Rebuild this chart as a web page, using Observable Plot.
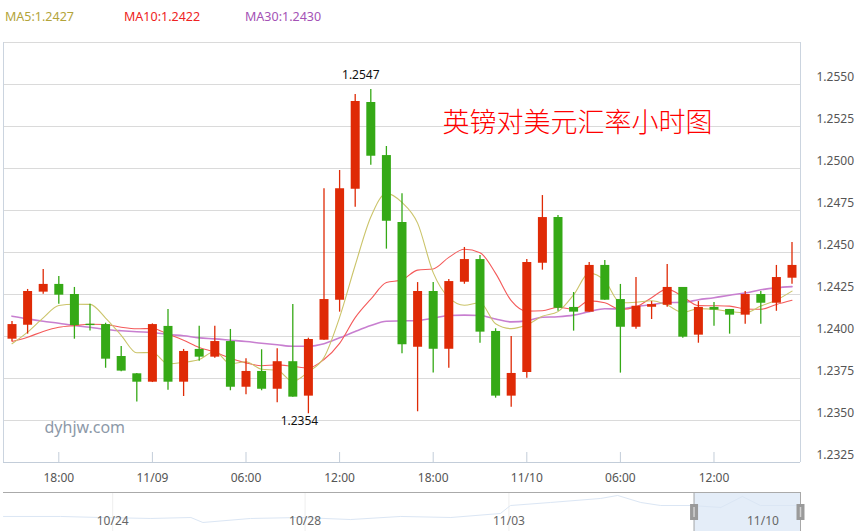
<!DOCTYPE html>
<html><head><meta charset="utf-8">
<script src="https://cdn.jsdelivr.net/npm/d3@7"></script>
<script src="https://cdn.jsdelivr.net/npm/@observablehq/plot@0.6"></script>
<style>
body{margin:0;background:#fff;font-family:"Noto Sans",sans-serif;}
#wrap{position:relative;width:856px;height:531px;overflow:hidden;}
#legend{position:absolute;top:0;left:0;width:856px;height:30px;font-size:12.5px;}
#legend span{position:absolute;top:8px;line-height:18px;white-space:nowrap;}
#main{position:absolute;top:30px;left:0;}
#nav{position:absolute;top:490px;left:0;}
</style></head>
<body><div id="wrap"><div id="legend"></div><div id="main"></div><div id="nav"></div></div>
<script>
// ---- data (hourly candles, 2016-11-08 15:00 .. 2016-11-10 18:00) ----
const startHour = "2016-11-08T15:00:00Z";
const open = [1.23984,1.24067,1.24264,1.24310,1.24250,1.24073,1.24071,1.23881,1.23778,1.23728,
  1.24060,1.23728,1.23923,1.23877,1.23970,1.23698,1.23792,1.23686,1.23850,1.23645,
  1.23978,1.24216,1.24877,1.25393,1.25077,1.24679,1.23936,1.24268,1.23924,1.24323,
  1.24458,1.24030,1.23645,1.23786,1.24436,1.24708,1.24173,1.24145,1.24423,1.24220,
  1.24055,1.24174,1.24186,1.24292,1.24008,1.24173,1.24161,1.24127,1.24250,1.24198,1.24347];
const high = [1.24089,1.24280,1.24399,1.24357,1.24292,1.24192,1.24079,1.23940,1.23780,1.24075,
  1.24161,1.23923,1.24061,1.24061,1.24042,1.23867,1.23921,1.23927,1.24190,1.23990,
  1.24880,1.24988,1.25440,1.25470,1.25131,1.24850,1.24321,1.24321,1.24339,1.24530,
  1.24482,1.24046,1.24000,1.24458,1.24839,1.24720,1.24262,1.24440,1.24452,1.24310,
  1.24351,1.24208,1.24429,1.24292,1.24208,1.24202,1.24161,1.24268,1.24268,1.24423,1.24560];
const low = [1.23970,1.24014,1.24252,1.24192,1.23984,1.24032,1.23811,1.23790,1.23610,1.23726,
  1.23680,1.23643,1.23853,1.23871,1.23677,1.23653,1.23677,1.23605,1.23639,1.23540,
  1.23978,1.24145,1.24770,1.25020,1.24520,1.23897,1.23552,1.23782,1.23811,1.24311,
  1.23960,1.23633,1.23579,1.23752,1.24395,1.24150,1.24032,1.24145,1.24216,1.23782,
  1.24043,1.24101,1.24174,1.23990,1.23960,1.24061,1.24014,1.24073,1.24073,1.24150,1.24311];
const close = [1.24071,1.24268,1.24310,1.24246,1.24065,1.24065,1.23865,1.23794,1.23728,1.24071,
  1.23728,1.23911,1.23877,1.23970,1.23698,1.23792,1.23686,1.23850,1.23639,1.23982,
  1.24220,1.24880,1.25399,1.25073,1.24686,1.23951,1.24268,1.23924,1.24327,1.24458,
  1.24026,1.23645,1.23780,1.24440,1.24708,1.24168,1.24145,1.24423,1.24216,1.24055,
  1.24180,1.24190,1.24292,1.23996,1.24173,1.24157,1.24127,1.24250,1.24198,1.24351,1.24423];
const ma5 = [1.23957,1.24026,1.24111,1.24185,1.24192,1.24191,1.24110,1.24007,1.23903,1.23905,
  1.23837,1.23846,1.23863,1.23911,1.23837,1.23850,1.23805,1.23799,1.23733,1.23790,
  1.23875,1.24114,1.24424,1.24711,1.24852,1.24798,1.24675,1.24380,1.24231,1.24186,
  1.24201,1.24076,1.24047,1.24070,1.24120,1.24148,1.24248,1.24377,1.24332,1.24201,
  1.24204,1.24213,1.24187,1.24143,1.24166,1.24162,1.24149,1.24141,1.24181,1.24217,1.24270];
const ma10 = [1.23970,1.23996,1.24030,1.24055,1.24065,1.24073,1.24071,1.24055,1.24046,1.24048,
  1.24014,1.23978,1.23935,1.23907,1.23871,1.23843,1.23826,1.23831,1.23822,1.23813,
  1.23863,1.23959,1.24112,1.24222,1.24321,1.24337,1.24395,1.24402,1.24471,1.24519,
  1.24499,1.24376,1.24214,1.24151,1.24153,1.24174,1.24162,1.24212,1.24201,1.24161,
  1.24176,1.24231,1.24282,1.24237,1.24184,1.24183,1.24181,1.24164,1.24162,1.24191,1.24216];
const ma30 = [1.24121,1.24105,1.24091,1.24079,1.24065,1.24055,1.24042,1.24034,1.24028,1.24024,
  1.24012,1.24004,1.23992,1.23986,1.23978,1.23970,1.23960,1.23951,1.23942,1.23942,
  1.23957,1.23992,1.24030,1.24065,1.24091,1.24093,1.24095,1.24109,1.24125,1.24127,
  1.24125,1.24104,1.24087,1.24093,1.24115,1.24118,1.24127,1.24148,1.24165,1.24164,
  1.24179,1.24189,1.24202,1.24203,1.24219,1.24231,1.24246,1.24259,1.24278,1.24290,1.24297];

const xTickTimes = ["2016-11-08T18:00Z","2016-11-09T00:00Z","2016-11-09T06:00Z","2016-11-09T12:00Z",
  "2016-11-09T18:00Z","2016-11-10T00:00Z","2016-11-10T06:00Z","2016-11-10T12:00Z"];
const xTickLabels = ["18:00","11/09","06:00","12:00","18:00","11/10","06:00","12:00"];
const yLabelTicks = [1.2325,1.2350,1.2375,1.2400,1.2425,1.2450,1.2475,1.2500,1.2525,1.2550];
const yGridTicks = [1.2350,1.2375,1.2400,1.2425,1.2450,1.2475,1.2500,1.2525,1.2550,1.2575];
const yDomain = [1.2325, 1.2575];

// navigator (overview) series, x in trading days from 10/24
const navT = [-2.16,-1.02,-0.22,0.78,1.58,1.82,2.77,3.77,4.77,5.77,6.77,7.76,7.96,8.76,9.76,10.10,10.56,10.96,11.56,12.16,12.59,12.95,13.75];
const navV = [1.2237,1.2237,1.2222,1.2208,1.2222,1.2150,1.2208,1.2222,1.2193,1.2237,1.2222,1.2280,1.2395,1.2439,1.2497,1.2540,1.2439,1.2395,1.2395,1.2367,1.2525,1.2395,1.2395];
const navLabelT = [0.02, 3.86, 7.93, 13.0];
const navLabels = ["10/24","10/28","11/03","11/10"];
const navDomainT = [-2.16, 13.75];
const navSelection = [11.625, 13.75];

const RED = "#df2a06", GREEN = "#35a916";
const H = 3600e3;
const t0 = new Date(startHour).getTime();
const candles = open.map((o, i) => ({
  t: new Date(t0 + i * H), open: o, high: high[i], low: low[i], close: close[i],
  ma5: ma5[i], ma10: ma10[i], ma30: ma30[i]
}));
const up = candles.filter(d => d.close >= d.open);
const down = candles.filter(d => d.close < d.open);
const xDomain = [new Date(t0 - 0.545 * H), new Date(t0 + (candles.length - 1 + 0.545) * H)];
const tickDates = xTickTimes.map(s => new Date(s));
const tickMap = new Map(tickDates.map((d, i) => [+d, xTickLabels[i]]));

const hi = candles.reduce((a, b) => b.high > a.high ? b : a);
const lo = candles.reduce((a, b) => b.low < a.low ? b : a);

// legend
const last = candles[candles.length - 1];
const legend = document.getElementById("legend");
[["MA5", last.ma5, "#b3a43a", 5], ["MA10", last.ma10, "#ee2222", 124], ["MA30", last.ma30, "#a452b5", 245]]
  .forEach(([n, v, c, x]) => {
    const s = document.createElement("span");
    s.textContent = `${n}:${v.toFixed(4)}`;
    s.style.color = c; s.style.left = x + "px";
    legend.appendChild(s);
  });

const main = Plot.plot({
  width: 856, height: 460,
  marginTop: 12, marginBottom: 28, marginLeft: 3, marginRight: 56,
  style: {fontFamily: "'Noto Sans', sans-serif", fontSize: "12px", color: "#555", background: "transparent"},
  x: {type: "utc", domain: xDomain},
  y: {domain: yDomain},
  marks: [
    Plot.ruleY(yGridTicks, {stroke: "#dadada"}),
    Plot.ruleX(xDomain, {stroke: "#cbd4df"}),
    Plot.ruleY([yDomain[0]], {stroke: "#c3cdd9"}),
    Plot.ruleX(tickDates, {stroke: "#c3cdd9", insetTop: 410}),
    Plot.axisX({ticks: tickDates, tickFormat: d => tickMap.get(+d), tickSize: 0, tickPadding: 11, label: null, fontSize: 12}),
    Plot.axisY({anchor: "right", ticks: yLabelTicks, tickFormat: d => d.toFixed(4), tickSize: 0, tickPadding: 16, dy: -7, label: null, fontSize: 12}),
    Plot.text(["dyhjw.com"], {text: d => d, frameAnchor: "bottom-left", dx: 41, dy: -30, textAnchor: "start", fontSize: 16, fill: "#8d99a8"}),
    Plot.line(candles, {x: "t", y: "ma30", stroke: "#c87fd0", strokeWidth: 1.6, curve: "monotone-x"}),
    Plot.line(candles, {x: "t", y: "ma10", stroke: "#f45a5a", strokeWidth: 1.1, curve: "monotone-x"}),
    Plot.line(candles, {x: "t", y: "ma5", stroke: "#cbc46a", strokeWidth: 1.1, curve: "monotone-x"}),
    Plot.ruleX(up, {x: "t", y1: "low", y2: "high", stroke: RED, strokeWidth: 1.3}),
    Plot.ruleX(down, {x: "t", y1: "low", y2: "high", stroke: GREEN, strokeWidth: 1.3}),
    Plot.ruleX(up, {x: "t", y1: "open", y2: "close", stroke: RED, strokeWidth: 9}),
    Plot.ruleX(down, {x: "t", y1: "open", y2: "close", stroke: GREEN, strokeWidth: 9}),
    Plot.text([hi], {x: "t", y: "high", text: d => d.high.toFixed(4), dx: -10, dy: -14, fontSize: 12, fill: "#111"}),
    Plot.text([lo], {x: "t", y: "low", text: d => d.low.toFixed(4), dx: -9, dy: 7, fontSize: 12, fill: "#111"}),
    Plot.text(["英镑对美元汇率小时图"], {text: d => d, frameAnchor: "top-left", dx: 439, dy: 70, textAnchor: "start",
      fontSize: 27, fontWeight: 300, fill: "#ff0000", fontFamily: "'Noto Sans CJK SC', sans-serif"})
  ]
});
document.getElementById("main").appendChild(main);

const navData = navT.map((t, i) => ({t, v: navV[i]}));
const navYDomain = [1.2020, 1.2583];
const nav = Plot.plot({
  width: 856, height: 41,
  marginTop: 2, marginBottom: 0, marginLeft: 3, marginRight: 56,
  style: {fontFamily: "'Noto Sans', sans-serif", fontSize: "12px", color: "#666", background: "transparent"},
  x: {domain: navDomainT, axis: null},
  y: {domain: navYDomain, axis: null},
  marks: [
    Plot.ruleX(navLabelT, {stroke: "#eeeeee"}),
    Plot.rect([navSelection], {x1: d => d[0], x2: d => d[1], y1: navYDomain[0], y2: navYDomain[1], fill: "#e4edf8"}),
    Plot.line(navData, {x: "t", y: "v", stroke: "#dbe6f4", strokeWidth: 1}),
    Plot.ruleY([navYDomain[1]], {stroke: "#aaaaaa"}),
    Plot.ruleX(navSelection, {stroke: "#a8a8a8"}),
    Plot.text(navLabelT, {x: d => d, text: (d, i) => navLabels[i], frameAnchor: "bottom", dy: -7, fill: "#666", fontSize: 12}),
    Plot.ruleX(navSelection, {stroke: "#9a9a9a", strokeWidth: 8, insetTop: 12, insetBottom: 11}),
    Plot.ruleX(navSelection, {stroke: "#d2d2d2", strokeWidth: 1.5, insetTop: 15, insetBottom: 14})
  ]
});
document.getElementById("nav").appendChild(nav);
</script></body></html>
